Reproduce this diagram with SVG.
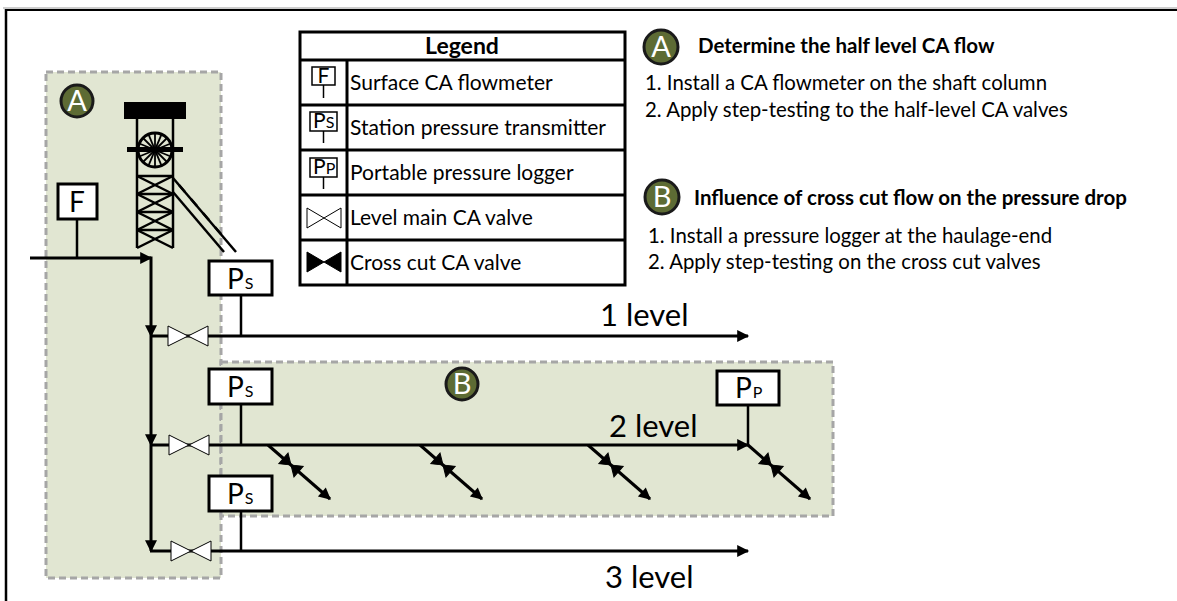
<svg xmlns="http://www.w3.org/2000/svg" width="1177" height="601" viewBox="0 0 1177 601">
  <defs>
    <marker id="arrowL" viewBox="0 0 10 10" refX="9" refY="5" markerWidth="14" markerHeight="12" markerUnits="userSpaceOnUse" orient="auto">
      <path d="M0,0 L10,5 L0,10 Z" fill="#000"/>
    </marker>
    <!-- level main valve: open bow-tie centred on origin -->
    <g id="mainValve">
      <path d="M-20,-10 L20,10 L20,-10 L-20,10 Z" fill="#fff" stroke="#000" stroke-width="1"/>
    </g>
    <!-- cross cut valve: filled bow-tie centred on origin -->
    <g id="crossValve">
      <path d="M-10,-7 L10,7 L10,-7 L-10,7 Z" fill="#000" stroke="#000" stroke-width="1"/>
    </g>
  </defs>
  <style>
    .zone { fill: #e1e6d2; stroke: #a6a6a6; stroke-width: 3; stroke-dasharray: 7 4; }
    .pipe { fill: none; stroke: #000; stroke-width: 3; }
    .stem { fill: none; stroke: #000; stroke-width: 2.5; }
    .box { fill: #fff; stroke: #000; stroke-width: 3; }
    .badge { fill: #5d6b34; stroke: #1a1a1a; stroke-width: 3; }
    .badgeTxt { font-family: Lato, "Liberation Sans", sans-serif; font-size: 29px; fill: #fff; text-anchor: middle; }
    .big { font-family: Lato, "Liberation Sans", sans-serif; font-size: 28px; fill: #000; }
    .sub { font-family: Lato, "Liberation Sans", sans-serif; font-size: 16px; fill: #000; }
    .lvl { font-family: Lato, "Liberation Sans", sans-serif; font-size: 31px; fill: #000; }
    .leg { font-family: Lato, "Liberation Sans", sans-serif; font-size: 21px; fill: #000; }
    .legHead { font-family: Lato, "Liberation Sans", sans-serif; font-size: 23px; font-weight: bold; fill: #000; text-anchor: middle; }
    .head { font-family: Lato, "Liberation Sans", sans-serif; font-size: 20.5px; font-weight: bold; fill: #000; }
    .step { font-family: Lato, "Liberation Sans", sans-serif; font-size: 20.4px; fill: #000; }
    .tower { fill: none; stroke: #000; stroke-width: 2.5; }
    .ltab { fill: #fff; stroke: #000; stroke-width: 3; }
    .licon { fill: #fff; stroke: #000; stroke-width: 1.5; }
  </style>

  <!-- outer frame -->
  <rect x="0" y="0" width="1177" height="601" fill="#fff"/>
  <line x1="3" y1="8" x2="1177" y2="8" stroke="#9a9a9a" stroke-width="1"/>
  <line x1="5" y1="10" x2="1177" y2="10" stroke="#000" stroke-width="2"/>
  <line x1="6" y1="9" x2="6" y2="601" stroke="#000" stroke-width="2.5"/>

  <!-- zones -->
  <g id="zoneA">
    <rect class="zone" x="46" y="72" width="175" height="506"/>
    <circle class="badge" cx="77" cy="101" r="16"/>
    <text class="badgeTxt" x="77" y="111">A</text>
  </g>
  <g id="zoneB">
    <rect class="zone" x="221" y="362" width="612" height="154"/>
    <circle class="badge" cx="462" cy="384" r="16"/>
    <text class="badgeTxt" x="462" y="394">B</text>
  </g>

  <!-- headframe -->
  <g id="headframe">
    <rect x="124" y="102" width="62" height="17" fill="#000"/>
    <line class="tower" x1="137" y1="119" x2="137" y2="248" stroke-width="3"/>
    <line class="tower" x1="173" y1="119" x2="173" y2="248" stroke-width="3"/>
    <circle cx="155" cy="150" r="17" fill="none" stroke="#000" stroke-width="3"/>
    <g stroke="#000" stroke-width="1.8">
      <line x1="155" y1="133" x2="155" y2="167"/>
      <line x1="138" y1="150" x2="172" y2="150"/>
      <line x1="143" y1="138" x2="167" y2="162"/>
      <line x1="167" y1="138" x2="143" y2="162"/>
      <line x1="148.5" y1="134.3" x2="161.5" y2="165.7"/>
      <line x1="161.5" y1="134.3" x2="148.5" y2="165.7"/>
      <line x1="139.3" y1="143.5" x2="170.7" y2="156.5"/>
      <line x1="139.3" y1="156.5" x2="170.7" y2="143.5"/>
    </g>
    <circle cx="155" cy="150" r="3" fill="#000"/>
    <rect x="127" y="147" width="56" height="5" fill="#000"/>
    <g class="tower" stroke-width="2">
      <line x1="137" y1="176" x2="173" y2="176"/>
      <line x1="137" y1="194" x2="173" y2="194"/>
      <line x1="137" y1="212" x2="173" y2="212"/>
      <line x1="137" y1="230" x2="173" y2="230"/>
      <line x1="137" y1="176" x2="173" y2="194"/>
      <line x1="173" y1="176" x2="137" y2="194"/>
      <line x1="137" y1="194" x2="173" y2="212"/>
      <line x1="173" y1="194" x2="137" y2="212"/>
      <line x1="137" y1="212" x2="173" y2="230"/>
      <line x1="173" y1="212" x2="137" y2="230"/>
      <line x1="137" y1="230" x2="173" y2="248"/>
      <line x1="173" y1="230" x2="137" y2="248"/>
    </g>
    <g class="tower" stroke-width="2">
      <line x1="173" y1="178" x2="236" y2="252"/>
      <line x1="173" y1="192" x2="224" y2="252"/>
      <line x1="179" y1="185" x2="185" y2="192" />
      <line x1="191" y1="199" x2="197" y2="206"/>
      <line x1="203" y1="213" x2="209" y2="220"/>
      <line x1="215" y1="227" x2="221" y2="234"/>
    </g>
  </g>

  <!-- connectors -->
  <g id="connectors">
    <line class="pipe" x1="30" y1="258" x2="151" y2="258" marker-end="url(#arrowL)"/>
    <line class="pipe" x1="151" y1="256.5" x2="151" y2="336" marker-end="url(#arrowL)"/>
    <line class="pipe" x1="151" y1="336" x2="151" y2="445" marker-end="url(#arrowL)"/>
    <line class="pipe" x1="151" y1="445" x2="151" y2="551" marker-end="url(#arrowL)"/>
    <line class="pipe" x1="150" y1="336" x2="748" y2="336" marker-end="url(#arrowL)"/>
    <line class="pipe" x1="150" y1="445" x2="748" y2="445" marker-end="url(#arrowL)"/>
    <line class="pipe" x1="150" y1="551" x2="748" y2="551" marker-end="url(#arrowL)"/>
    <!-- instrument stems -->
    <line class="stem" x1="77" y1="219" x2="77" y2="258"/>
    <line class="stem" x1="241" y1="295" x2="241" y2="336"/>
    <line class="stem" x1="241" y1="404" x2="241" y2="445"/>
    <line class="stem" x1="241" y1="511" x2="241" y2="551"/>
    <line class="stem" x1="748" y1="405" x2="748" y2="445"/>
    <!-- cross cut branches -->
    <line class="pipe" x1="268" y1="445" x2="330" y2="499" marker-end="url(#arrowL)"/>
    <line class="pipe" x1="420" y1="445" x2="482" y2="499" marker-end="url(#arrowL)"/>
    <line class="pipe" x1="588" y1="445" x2="650" y2="499" marker-end="url(#arrowL)"/>
    <line class="pipe" x1="748" y1="445" x2="810" y2="499" marker-end="url(#arrowL)"/>
  </g>

  <!-- valves -->
  <g id="valves">
    <use href="#mainValve" x="188" y="336"/>
    <use href="#mainValve" x="189" y="445"/>
    <use href="#mainValve" x="191" y="551"/>
    <use href="#crossValve" transform="translate(291,465) rotate(41)"/>
    <use href="#crossValve" transform="translate(443,465) rotate(41)"/>
    <use href="#crossValve" transform="translate(611,465) rotate(41)"/>
    <use href="#crossValve" transform="translate(771,465) rotate(41)"/>
  </g>

  <!-- instruments -->
  <g id="flowmeter">
    <rect class="box" x="58" y="184" width="39" height="35"/>
    <text class="big" x="77" y="212" text-anchor="middle">F</text>
  </g>
  <g id="ps1">
    <rect class="box" x="209" y="261" width="63" height="34"/>
    <text x="227" y="289"><tspan class="big">P</tspan><tspan class="sub" dx="1">S</tspan></text>
  </g>
  <g id="ps2">
    <rect class="box" x="209" y="369" width="63" height="35"/>
    <text x="227" y="397"><tspan class="big">P</tspan><tspan class="sub" dx="1">S</tspan></text>
  </g>
  <g id="ps3">
    <rect class="box" x="209" y="476" width="63" height="35"/>
    <text x="227" y="504"><tspan class="big">P</tspan><tspan class="sub" dx="1">S</tspan></text>
  </g>
  <g id="pp">
    <rect class="box" x="717" y="371" width="62" height="34"/>
    <text x="735" y="398"><tspan class="big">P</tspan><tspan class="sub" dx="1">P</tspan></text>
  </g>

  <!-- level labels -->
  <g id="labels">
    <text class="lvl" x="600" y="326">1 level</text>
    <text class="lvl" x="609" y="437">2 level</text>
    <text class="lvl" x="605" y="588">3 level</text>
  </g>

  <!-- legend -->
  <g id="legend">
    <rect class="ltab" x="300" y="32" width="325" height="253"/>
    <g stroke="#000" stroke-width="3">
      <line x1="300" y1="60" x2="625" y2="60"/>
      <line x1="300" y1="105" x2="625" y2="105"/>
      <line x1="300" y1="150" x2="625" y2="150"/>
      <line x1="300" y1="195" x2="625" y2="195"/>
      <line x1="300" y1="240" x2="625" y2="240"/>
      <line x1="347" y1="60" x2="347" y2="285"/>
    </g>
    <text class="legHead" x="462" y="54">Legend</text>
    <rect class="licon" x="312" y="67" width="23" height="18"/>
    <text class="leg" x="323.5" y="83" text-anchor="middle" font-size="17">F</text>
    <line x1="323.5" y1="85" x2="323.5" y2="98" stroke="#000" stroke-width="1.5"/>
    <rect class="licon" x="310" y="112" width="27" height="19"/>
    <text x="313" y="128"><tspan class="leg" font-size="17">P</tspan><tspan class="sub" font-size="11">S</tspan></text>
    <line x1="323.5" y1="131" x2="323.5" y2="143" stroke="#000" stroke-width="1.5"/>
    <rect class="licon" x="310" y="158" width="27" height="19"/>
    <text x="313" y="174"><tspan class="leg" font-size="17">P</tspan><tspan class="sub" font-size="11">P</tspan></text>
    <line x1="323.5" y1="177" x2="323.5" y2="189" stroke="#000" stroke-width="1.5"/>
    <path d="M307,208 L341,228 L341,208 L307,228 Z" fill="#fff" stroke="#000" stroke-width="1"/>
    <path d="M307,252 L341,272 L341,252 L307,272 Z" fill="#000" stroke="#000" stroke-width="1"/>
    <text class="leg" x="350" y="90">Surface CA flowmeter</text>
    <text class="leg" x="350" y="135">Station pressure transmitter</text>
    <text class="leg" x="350" y="180">Portable pressure logger</text>
    <text class="leg" x="350" y="225">Level main CA valve</text>
    <text class="leg" x="350" y="270">Cross cut CA valve</text>
  </g>

  <!-- notes -->
  <g id="noteA">
    <circle class="badge" cx="661" cy="47" r="17"/>
    <text class="badgeTxt" x="661" y="57">A</text>
    <text class="head" x="698" y="53">Determine the half level CA flow</text>
    <text class="step" x="645" y="90">1. Install a CA flowmeter on the shaft column</text>
    <text class="step" x="645" y="117">2. Apply step-testing to the half-level CA valves</text>
  </g>
  <g id="noteB">
    <circle class="badge" cx="662" cy="197" r="17"/>
    <text class="badgeTxt" x="662" y="207">B</text>
    <text class="head" x="694" y="205">Influence of cross cut flow on the pressure drop</text>
    <text class="step" x="648" y="243">1. Install a pressure logger at the haulage-end</text>
    <text class="step" x="648" y="269">2. Apply step-testing on the cross cut valves</text>
  </g>
</svg>
